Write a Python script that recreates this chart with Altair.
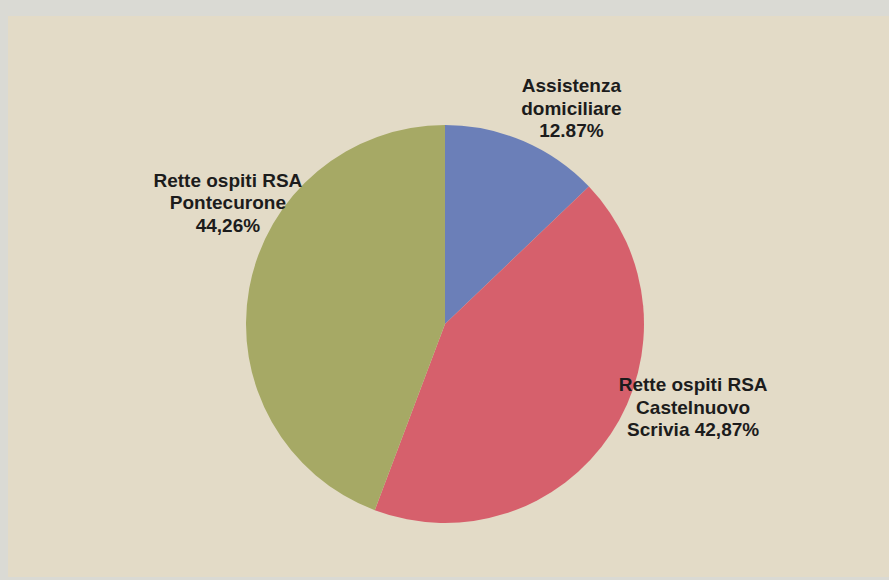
import altair as alt
import pandas as pd

categories = ["Assistenza domiciliare", "Rette ospiti RSA Castelnuovo Scrivia", "Rette ospiti RSA Pontecurone"]
values = [12.87, 42.87, 44.26]
labels = ["Assistenza\ndomiciliare\n12.87%",
          "Rette ospiti RSA\nCastelnuovo\nScrivia 42,87%",
          "Rette ospiti RSA\nPontecurone\n44,26%"]
colors = ["#6b7fb8", "#d6606c", "#a6a965"]

df = pd.DataFrame({"category": categories, "value": values, "label": labels,
                   "rank": list(range(len(categories)))})
total = sum(values)

W, H = 889, 580
CX, CY, R = 445, 324, 199

panel = alt.Chart(pd.DataFrame({"a": [0]})).mark_rect(color="#e3dbc7").encode(
    x=alt.value(8), x2=alt.value(889), y=alt.value(16), y2=alt.value(577)
)

base = alt.Chart(df)
theta_scale = alt.Scale(domain=[0, total])

arcs = base.mark_arc(outerRadius=R).encode(
    theta=alt.Theta("value:Q", stack=True, scale=theta_scale),
    color=alt.Color("category:N", scale=alt.Scale(domain=categories, range=colors), legend=None),
    order=alt.Order("rank:Q"),
    x=alt.value(CX), y=alt.value(CY),
)

lab = base.transform_window(
    cum="sum(value)", sort=[alt.SortField("rank")], frame=[None, 0]
).transform_calculate(mid="datum.cum - datum.value / 2")

offsets = [(32, -17), (48, -71), (19, -100)]
text_layers = []
for cat, (dx, dy) in zip(categories, offsets):
    t = lab.transform_filter(alt.datum.category == cat).mark_text(
        radius=240, dx=dx, dy=dy, lineBreak="\n", lineHeight=22.5,
        font="Liberation Sans", fontWeight="bold", fontSize=19,
        color="#1c1c1c", align="center", baseline="middle",
    ).encode(
        theta=alt.Theta("mid:Q", scale=theta_scale),
        text="label:N",
        x=alt.value(CX), y=alt.value(CY),
    )
    text_layers.append(t)

chart = alt.layer(panel, arcs, *text_layers).properties(
    width=W, height=H, background="#dadad4", padding=0,
    autosize=alt.AutoSizeParams(type="none"),
).configure_view(stroke=None)

chart.save("out.html", embed_options={"renderer": "svg", "actions": False})
